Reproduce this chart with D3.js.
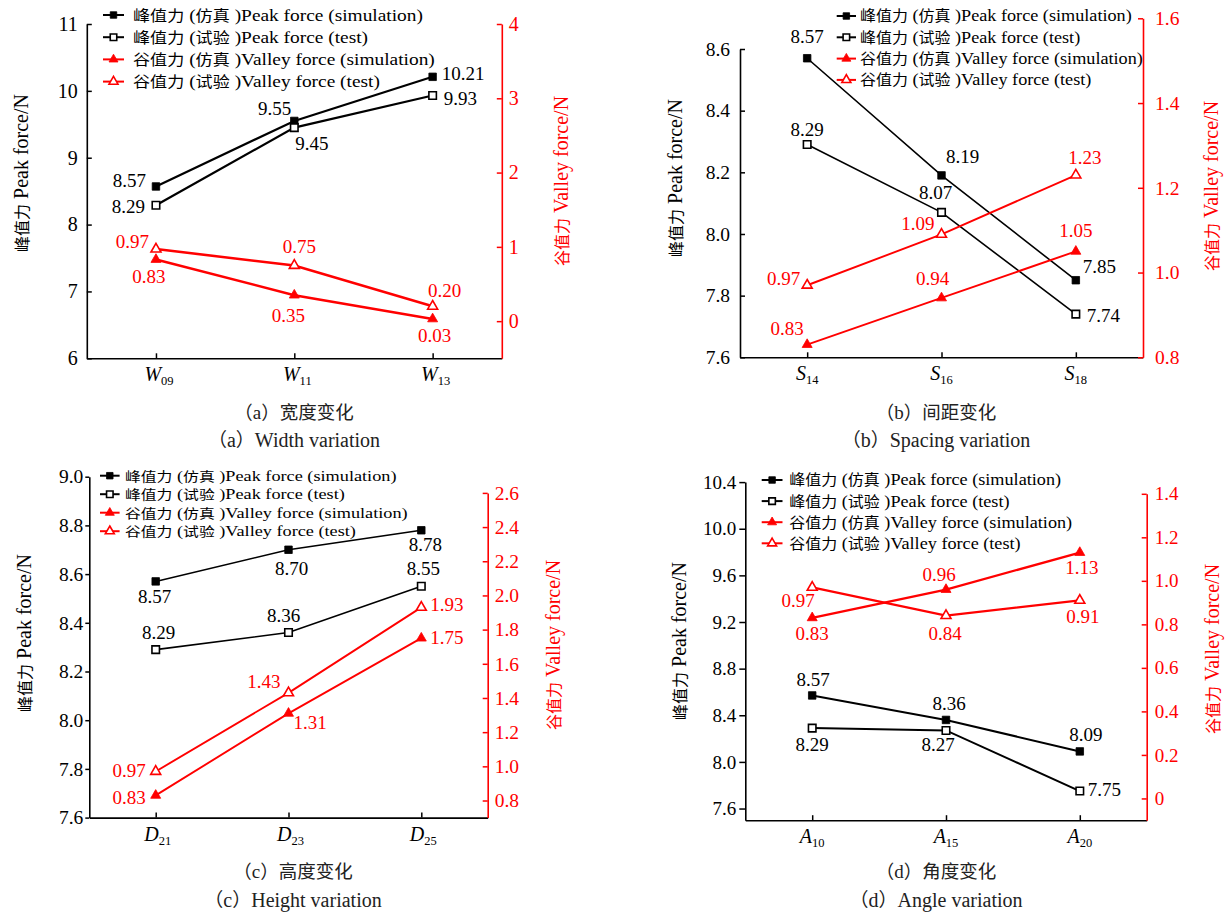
<!DOCTYPE html>
<html><head><meta charset="utf-8">
<script src="https://cdn.jsdelivr.net/npm/d3@7"></script>
<style>body{margin:0;background:#fff}</style>
</head><body>
<svg id="chart" width="1229" height="915"></svg>
<script>
// ---------------- DATA ----------------
const catsA = ["W09", "W11", "W13"];
const peakSimA = [8.57, 9.55, 10.21];
const peakTestA = [8.29, 9.45, 9.93];
const valleySimA = [0.83, 0.35, 0.03];
const valleyTestA = [0.97, 0.75, 0.20];
const leftTicksA = [6, 7, 8, 9, 10, 11];
const rightTicksA = [0, 1, 2, 3, 4];

const catsB = ["S14", "S16", "S18"];
const peakSimB = [8.57, 8.19, 7.85];
const peakTestB = [8.29, 8.07, 7.74];
const valleySimB = [0.83, 0.94, 1.05];
const valleyTestB = [0.97, 1.09, 1.23];
const leftTicksB = [7.6, 7.8, 8.0, 8.2, 8.4, 8.6];
const rightTicksB = [0.8, 1.0, 1.2, 1.4, 1.6];

const catsC = ["D21", "D23", "D25"];
const peakSimC = [8.57, 8.70, 8.78];
const peakTestC = [8.29, 8.36, 8.55];
const valleySimC = [0.83, 1.31, 1.75];
const valleyTestC = [0.97, 1.43, 1.93];
const leftTicksC = [7.6, 7.8, 8.0, 8.2, 8.4, 8.6, 8.8, 9.0];
const rightTicksC = [0.8, 1.0, 1.2, 1.4, 1.6, 1.8, 2.0, 2.2, 2.4, 2.6];

const catsD = ["A10", "A15", "A20"];
const peakSimD = [8.57, 8.36, 8.09];
const peakTestD = [8.29, 8.27, 7.75];
const valleySimD = [0.83, 0.96, 1.13];
const valleyTestD = [0.97, 0.84, 0.91];
const leftTicksD = [7.6, 8.0, 8.4, 8.8, 9.2, 9.6, 10.0, 10.4];
const rightTicksD = [0, 0.2, 0.4, 0.6, 0.8, 1.0, 1.2, 1.4];

const legendLabels = [
  "峰值力 (仿真 )Peak force (simulation)",
  "峰值力 (试验 )Peak force (test)",
  "谷值力 (仿真 )Valley force (simulation)",
  "谷值力 (试验 )Valley force (test)"
];
const leftTitle = "峰值力 Peak force/N";
const rightTitle = "谷值力 Valley force/N";
const titlesCN = ["（a）宽度变化", "（b）间距变化", "（c）高度变化", "（d）角度变化"];
const titlesEN = ["（a）Width variation", "（b）Spacing variation", "（c）Height variation", "（d）Angle variation"];

// ---------------- LABEL PLACEMENT (anchor, dx, dy) ----------------
const labPosA = {
  peakSim: [["end", -10, 1], ["end", -3, -6], ["start", 9, 3]],
  peakTest: [["end", -11, 8], ["start", 1, 22], ["start", 11, 9]],
  valleySim: [["middle", -7, 24], ["middle", -6, 27], ["middle", 2, 23]],
  valleyTest: [["end", -7, -1], ["middle", 5, -12], ["middle", 12, -9]]
};
const labPosB = {
  peakSim: [["middle", 0, -15], ["middle", 21, -12], ["start", 7, -7]],
  peakTest: [["middle", 0, -9], ["middle", -6, -13], ["start", 11, 8]],
  valleySim: [["middle", -20, -10], ["middle", -9, -13], ["middle", 0, -14]],
  valleyTest: [["end", -7, 0], ["end", -7, -4], ["middle", 9, -11]]
};
const labPosC = {
  peakSim: [["middle", -1, 22], ["middle", 3, 25], ["middle", 4, 21]],
  peakTest: [["middle", 3, -11], ["middle", -5, -11], ["middle", 2, -11]],
  valleySim: [["end", -10, 9], ["start", 5, 16], ["start", 9, 6]],
  valleyTest: [["end", -10, 6], ["end", -8, -5], ["start", 9, 4]]
};
const labPosD = {
  peakSim: [["middle", 1, -9], ["middle", 3, -10], ["middle", 6, -10]],
  peakTest: [["middle", 0, 23], ["middle", -8, 21], ["start", 8, 5]],
  valleySim: [["middle", 0, 22], ["middle", -7, -9], ["middle", 2, 21]],
  valleyTest: [["middle", -14, 20], ["middle", -1, 24], ["middle", 3, 23]]
};

// ---------------- PANELS ----------------
const panels = [
  {cats: catsA, peakSim: peakSimA, peakTest: peakTestA, valleySim: valleySimA, valleyTest: valleyTestA,
   leftTicks: leftTicksA, rightTicks: rightTicksA, leftDomain: [6, 11], rightDomain: [-0.5, 4],
   leftFmt: d3.format("d"), rightFmt: d3.format("d"), lab: labPosA, idx: 0,
   x0: 86.8, x1: 501.8, bottom: 358.3, leftTop: 24, rightTop: 24,
   leftTick: -5, leftPad: 9, rightTick: -5, rightPad: 7, tickFont: 20, labelFont: 19, lineW: 2.2,
   xlabDx: 3,
   legX0: 103, legX1: 124, legTX: 133, legY0: 15, legStep: 22.2, legW: 302, legFont: 17, legCjk: 15,
   lt: [21, 173], rt: [561, 181], titleX: 294, cnY: 419, enY: 447},
  {cats: catsB, peakSim: peakSimB, peakTest: peakTestB, valleySim: valleySimB, valleyTest: valleyTestB,
   leftTicks: leftTicksB, rightTicks: rightTicksB, leftDomain: [7.6, 8.6], rightDomain: [0.8, 1.6],
   leftFmt: d3.format(".1f"), rightFmt: d3.format(".1f"), lab: labPosB, idx: 1,
   x0: 740, x1: 1143, bottom: 357.3, leftTop: 49, rightTop: 18.3,
   leftTick: -5, leftPad: 10, rightTick: -5, rightPad: 12, tickFont: 19.5, labelFont: 19, lineW: 1.6,
   xlabDx: 0,
   legX0: 836.7, legX1: 856, legTX: 860, legY0: 16, legStep: 21.3, legW: 283, legFont: 16.5, legCjk: 14.5,
   lt: [675, 178], rt: [1211, 186], titleX: 936, cnY: 419, enY: 447},
  {cats: catsC, peakSim: peakSimC, peakTest: peakTestC, valleySim: valleySimC, valleyTest: valleyTestC,
   leftTicks: leftTicksC, rightTicks: rightTicksC, leftDomain: [7.6, 9.0], rightDomain: [0.7, 2.6],
   leftFmt: d3.format(".1f"), rightFmt: d3.format(".1f"), lab: labPosC, idx: 2,
   x0: 89.3, x1: 487.7, bottom: 817.6, leftTop: 476.7, rightTop: 492.9,
   leftTick: 4, leftPad: 2, rightTick: -5, rightPad: 7, tickFont: 19.5, labelFont: 19, lineW: 1.6,
   xlabDx: 2,
   legX0: 100, legX1: 119.6, legTX: 125, legY0: 475.7, legStep: 18.5, legW: 283, legFont: 15, legCjk: 13,
   lt: [24, 633], rt: [553, 645], titleX: 293, cnY: 878, enY: 907},
  {cats: catsD, peakSim: peakSimD, peakTest: peakTestD, valleySim: valleySimD, valleyTest: valleyTestD,
   leftTicks: leftTicksD, rightTicks: rightTicksD, leftDomain: [7.5, 10.4], rightDomain: [-0.1, 1.4],
   leftFmt: d3.format(".1f"), rightFmt: d => d === 0 ? "0" : d3.format(".1f")(d), lab: labPosD, idx: 3,
   x0: 745.3, x1: 1146.7, bottom: 820.2, leftTop: 482.1, rightTop: 493.8,
   leftTick: 6, leftPad: 3, rightTick: -5, rightPad: 8, tickFont: 19, labelFont: 19, lineW: 2,
   xlabDx: 0,
   legX0: 761.7, legX1: 782.5, legTX: 789.3, legY0: 480, legStep: 21.1, legW: 283, legFont: 16.5, legCjk: 14.5,
   lt: [679, 641], rt: [1212, 649], titleX: 936, cnY: 878, enY: 907}
];

// ---------------- DRAW ----------------
const FONT = "Liberation Serif, Tinos, Times New Roman, DejaVu Serif, serif";
const CJK = "Noto Sans CJK SC, Noto Sans CJK JP, sans-serif";
const RED = "#ff0000", BLACK = "#000000";
const svg = d3.select("#chart");
const CJK_RE = /[\u3000-\u9fff\uff00-\uffef]/;

function richText(sel, str, cjkSize) {
  const runs = str.match(/[\u3000-\u9fff\uff00-\uffef]+|[^\u3000-\u9fff\uff00-\uffef]+/g);
  runs.forEach(r => {
    const t = sel.append("tspan").text(r);
    if (CJK_RE.test(r)) {
      t.attr("font-family", CJK);
      if (cjkSize) t.attr("font-size", cjkSize);
    }
  });
}

const seriesDefs = [
  {key: "peakSim", color: BLACK, shape: d3.symbolSquare, filled: true, axis: "L"},
  {key: "peakTest", color: BLACK, shape: d3.symbolSquare, filled: false, axis: "L"},
  {key: "valleySim", color: RED, shape: d3.symbolTriangle, filled: true, axis: "R"},
  {key: "valleyTest", color: RED, shape: d3.symbolTriangle, filled: false, axis: "R"}
];

function styleAxis(sel, color, font) {
  sel.attr("font-family", FONT);
  sel.select(".domain").attr("stroke", color).attr("stroke-width", 1.6);
  sel.selectAll(".tick line").attr("stroke", color).attr("stroke-width", 1.5);
  sel.selectAll(".tick text").attr("fill", color).attr("font-family", FONT).attr("font-size", font);
}

function marker(sel, s, size) {
  const area = s.shape === d3.symbolSquare ? size * size : size * size * 0.433;
  sel.attr("d", d3.symbol().type(s.shape).size(area))
    .attr("fill", s.filled ? s.color : "#fff")
    .attr("stroke", s.color)
    .attr("stroke-width", s.filled ? 0.8 : 1.6);
}

panels.forEach(p => {
  const g = svg.append("g");
  const x = d3.scalePoint().domain(p.cats).range([p.x0, p.x1]).padding(0.5);
  const yL = d3.scaleLinear().domain(p.leftDomain).range([p.bottom, p.leftTop]);
  const yR = d3.scaleLinear().domain(p.rightDomain).range([p.bottom, p.rightTop]);

  // bottom axis
  const gb = g.append("g").attr("transform", `translate(0,${p.bottom})`)
    .call(d3.axisBottom(x).tickSizeInner(-5).tickSizeOuter(0).tickFormat(""));
  styleAxis(gb, BLACK, p.tickFont);
  g.selectAll("text.xlab").data(p.cats).join("text").attr("class", "xlab")
    .attr("x", d => x(d) + p.xlabDx).attr("y", p.bottom + 23)
    .attr("text-anchor", "middle").attr("font-family", FONT).attr("fill", BLACK)
    .each(function(d) {
      const t = d3.select(this);
      t.append("tspan").attr("font-style", "italic").attr("font-size", 20).text(d[0]);
      t.append("tspan").attr("font-size", 12.5).attr("dy", 4).text(d.slice(1));
    });

  // left axis
  const gl = g.append("g").attr("transform", `translate(${p.x0},0)`)
    .call(d3.axisLeft(yL).tickValues(p.leftTicks).tickFormat(p.leftFmt)
      .tickSizeInner(p.leftTick).tickSizeOuter(0).tickPadding(p.leftPad));
  styleAxis(gl, BLACK, p.tickFont);

  // right axis
  const gr = g.append("g").attr("transform", `translate(${p.x1},0)`)
    .call(d3.axisRight(yR).tickValues(p.rightTicks).tickFormat(p.rightFmt)
      .tickSizeInner(p.rightTick).tickSizeOuter(0).tickPadding(p.rightPad));
  styleAxis(gr, RED, p.tickFont);

  // axis titles
  [[p.lt, leftTitle, BLACK], [p.rt, rightTitle, RED]].forEach(([pos, txt, col]) => {
    const t = g.append("text").attr("transform", `translate(${pos[0]},${pos[1]}) rotate(-90)`)
      .attr("text-anchor", "middle").attr("dy", "0.35em").attr("font-family", FONT)
      .attr("font-size", 20).attr("fill", col);
    richText(t, txt, 16);
  });

  // series
  seriesDefs.forEach(s => {
    const vals = p[s.key];
    const y = s.axis === "L" ? yL : yR;
    const line = d3.line().x((d, i) => x(p.cats[i])).y(d => y(d));
    g.append("path").datum(vals).attr("d", line).attr("fill", "none")
      .attr("stroke", s.color).attr("stroke-width", s.axis === "R" ? p.lineW + 0.3 : p.lineW);
    g.selectAll(null).data(vals).join("path")
      .attr("transform", (d, i) => `translate(${x(p.cats[i])},${y(d)})`)
      .call(marker, s, s.shape === d3.symbolSquare ? 7.5 : 10);
    g.selectAll(null).data(vals).join("text")
      .attr("x", (d, i) => x(p.cats[i]) + p.lab[s.key][i][1])
      .attr("y", (d, i) => y(d) + p.lab[s.key][i][2])
      .attr("text-anchor", (d, i) => p.lab[s.key][i][0])
      .attr("font-family", FONT).attr("font-size", p.labelFont).attr("fill", s.color)
      .text(d => d3.format(".2f")(d));
  });

  // legend
  const legTexts = [];
  seriesDefs.forEach((s, i) => {
    const yy = p.legY0 + i * p.legStep;
    g.append("line").attr("x1", p.legX0).attr("x2", p.legX1).attr("y1", yy).attr("y2", yy)
      .attr("stroke", s.color).attr("stroke-width", 2);
    g.append("path").attr("transform", `translate(${(p.legX0 + p.legX1) / 2},${yy})`)
      .call(marker, s, s.shape === d3.symbolSquare ? 6.5 : 9);
    const t = g.append("text").attr("font-family", FONT).attr("font-size", p.legFont).attr("fill", BLACK);
    richText(t, legendLabels[i], p.legCjk);
    legTexts.push([t, yy]);
  });
  const k = p.legW / legTexts[2][0].node().getBBox().width;
  legTexts.forEach(([t, yy]) => t.attr("transform",
    `translate(${p.legTX},${yy + p.legFont * 0.33}) scale(${k},1)`));

  // panel titles
  const tc = g.append("text").attr("x", p.titleX).attr("y", p.cnY).attr("text-anchor", "middle")
    .attr("font-family", FONT).attr("font-size", 19).attr("fill", "#222");
  richText(tc, titlesCN[p.idx], 18.5);
  const te = g.append("text").attr("x", p.titleX).attr("y", p.enY).attr("text-anchor", "middle")
    .attr("font-family", FONT).attr("font-size", 20).attr("fill", "#222");
  richText(te, titlesEN[p.idx], 19);
});
</script>
</body></html>
